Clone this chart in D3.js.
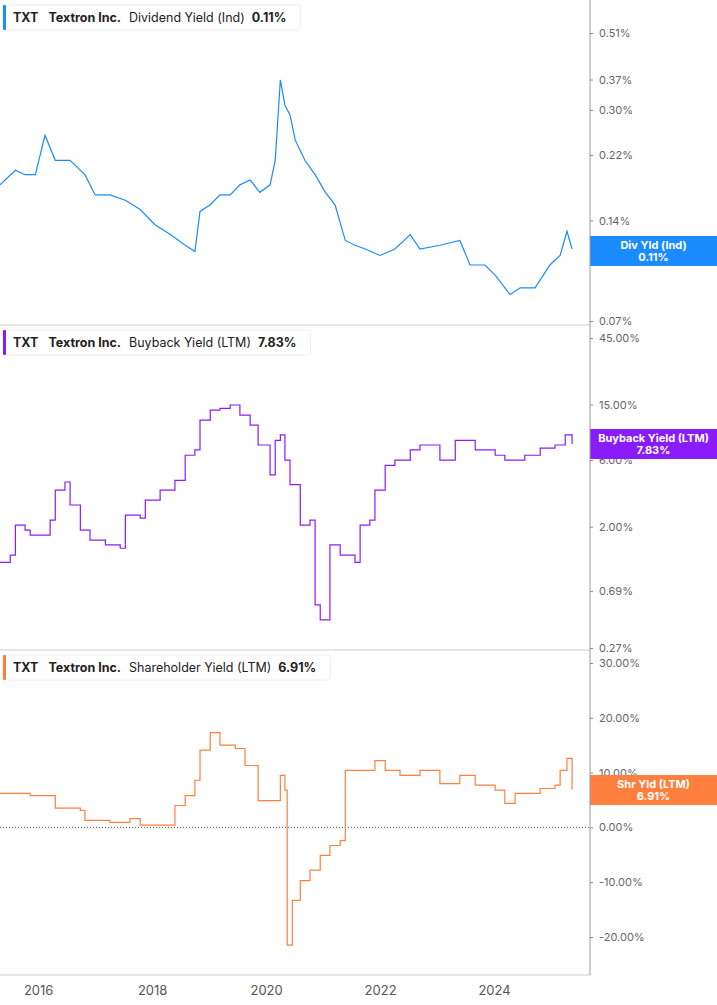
<!DOCTYPE html>
<html><head><meta charset="utf-8">
<script src="https://cdn.jsdelivr.net/npm/d3@7"></script>
<style>body{margin:0;background:#fff;font-family:Inter,"Noto Sans",sans-serif}</style>
</head><body><svg id="c" width="717" height="1005"></svg>
<script>
// data (decimal years, values in %)
const divYears = [2015.33,2015.60,2015.77,2015.95,2016.12,2016.30,2016.56,2016.82,2017.00,2017.26,2017.53,2017.79,2018.05,2018.32,2018.58,2018.75,2018.84,2019.02,2019.19,2019.37,2019.54,2019.72,2019.89,2020.07,2020.16,2020.25,2020.33,2020.42,2020.51,2020.68,2020.86,2021.04,2021.21,2021.39,2021.56,2021.74,2022.00,2022.26,2022.53,2022.70,2023.05,2023.40,2023.58,2023.84,2024.02,2024.28,2024.46,2024.72,2024.98,2025.16,2025.28,2025.37];
const divVals = [0.179,0.198,0.192,0.192,0.252,0.212,0.212,0.192,0.167,0.167,0.161,0.151,0.136,0.127,0.118,0.113,0.149,0.156,0.167,0.167,0.179,0.185,0.170,0.179,0.212,0.369,0.310,0.290,0.244,0.212,0.192,0.170,0.156,0.122,0.118,0.115,0.110,0.115,0.127,0.115,0.118,0.122,0.103,0.103,0.096,0.084,0.088,0.088,0.103,0.110,0.130,0.115];

const bbYears = [2015.33,2015.51,2015.60,2015.77,2015.86,2016.04,2016.21,2016.30,2016.47,2016.56,2016.74,2016.91,2017.18,2017.44,2017.53,2017.79,2017.88,2018.14,2018.40,2018.58,2018.75,2018.84,2019.02,2019.19,2019.37,2019.54,2019.72,2019.86,2020.07,2020.16,2020.25,2020.33,2020.42,2020.60,2020.77,2020.86,2020.95,2021.09,2021.12,2021.30,2021.56,2021.65,2021.82,2021.91,2022.09,2022.26,2022.53,2022.70,2023.05,2023.32,2023.67,2024.02,2024.19,2024.54,2024.81,2025.07,2025.25,2025.37];
const bbVals = [1.11,1.25,2.05,1.89,1.74,1.74,2.23,3.66,4.18,2.86,1.89,1.60,1.48,1.40,2.42,2.30,3.10,3.66,4.30,6.5,7.1,11.6,13.7,14.1,14.9,12.6,10.7,7.7,4.7,8.3,9.1,6.0,4.0,2.05,2.23,0.55,0.43,0.43,1.48,1.25,1.11,2.05,2.23,3.66,5.5,6.0,7.1,7.7,6.0,8.3,7.1,6.5,6.0,6.5,7.3,7.7,9.1,7.83];

const shYears = [2015.33,2015.86,2016.30,2016.74,2016.82,2017.26,2017.61,2017.79,2018.14,2018.40,2018.58,2018.75,2018.84,2019.02,2019.19,2019.46,2019.63,2019.86,2020.07,2020.25,2020.33,2020.37,2020.46,2020.60,2020.77,2020.95,2021.12,2021.30,2021.39,2021.65,2021.91,2022.09,2022.35,2022.70,2023.05,2023.40,2023.67,2024.02,2024.19,2024.37,2024.81,2025.07,2025.16,2025.28,2025.37];
const shVals = [6.2,5.8,3.5,3.1,1.3,0.9,1.6,0.4,0.4,4.0,5.8,8.6,14.1,17.3,15.0,14.4,11.3,4.9,4.9,9.5,6.8,-21.5,-13.3,-9.7,-7.8,-5.1,-3.3,-2.4,10.4,10.4,12.2,10.4,9.5,10.4,8.0,9.5,7.7,6.8,4.4,6.2,7.1,7.7,10.4,12.6,6.91];

const xTicks = [2016,2018,2020,2022,2024];

const svg = d3.select("#c");
const axisX = 590;
const x = d3.scaleLinear().domain([2015.33, 2016 + (590 - 38) / 57]).range([0, axisX]);
const fmtPct = d => d.toFixed(2) + "%";

const panels = [
  {top:0, bottom:325, years:divYears, vals:divVals, color:"#1a8cff", curve:d3.curveLinear,
   y:d3.scaleLog().domain([0.51,0.07]).range([33,321]),
   ticks:[0.51,0.37,0.30,0.22,0.14,0.11,0.07],
   name:"Dividend Yield (Ind)", last:"0.11%", tag:"Div Yld (Ind)", tagY:236},
  {top:325, bottom:650, years:bbYears, vals:bbVals, color:"#8a1cf9", curve:d3.curveStepAfter,
   y:d3.scaleLog().domain([45,0.27]).range([338,648]),
   ticks:[45,15,6,2,0.69,0.27],
   name:"Buyback Yield (LTM)", last:"7.83%", tag:"Buyback Yield (LTM)", tagY:429},
  {top:650, bottom:975, years:shYears, vals:shVals, color:"#ff7f3f", curve:d3.curveStepAfter,
   y:d3.scaleLinear().domain([30,-20]).range([663,937]),
   ticks:[30,20,10,0,-10,-20],
   name:"Shareholder Yield (LTM)", last:"6.91%", tag:"Shr Yld (LTM)", tagY:775, zero:true}
];

panels.forEach(p => {
  const g = svg.append("g");
  if (p.zero) {
    g.append("line").attr("x1",0).attr("x2",axisX).attr("y1",p.y(0)).attr("y2",p.y(0))
      .attr("stroke","#555").attr("stroke-dasharray","1,2");
  }
  const line = d3.line().curve(p.curve).x((d,i) => x(p.years[i])).y(d => p.y(d));
  g.append("path").datum(p.vals).attr("d", line).attr("fill","none")
    .attr("stroke", p.color).attr("stroke-width", 1.2);

  // right axis
  const ax = g.append("g").attr("transform",`translate(${axisX},0)`)
    .call(d3.axisRight(p.y).tickValues(p.ticks).tickSize(3).tickFormat(fmtPct));
  ax.select(".domain").remove();
  ax.selectAll("line").attr("stroke","#888");
  ax.selectAll("text").attr("x",9).attr("fill","#666").style("font-size","11px").style("font-family","Inter,sans-serif");

  g.append("line").attr("x1",0).attr("x2",axisX).attr("y1",p.bottom).attr("y2",p.bottom).attr("stroke","#ccc");

  // legend, box sized to its text
  const lg = g.append("g").attr("transform",`translate(3,${p.top + 5})`);
  const box = lg.append("rect").attr("height",25).attr("rx",3)
    .attr("fill","#fff").attr("stroke","#eee");
  lg.append("rect").attr("width",3).attr("height",25).attr("rx",1).attr("fill",p.color);
  const t = lg.append("text").attr("x",10).attr("y",17).style("font-size","12.5px").attr("fill","#222");
  t.append("tspan").attr("font-weight","bold").text("TXT");
  t.append("tspan").attr("dx",10).attr("font-weight","bold").text("Textron Inc.");
  t.append("tspan").attr("dx",8).text(p.name);
  t.append("tspan").attr("dx",7).attr("font-weight","bold").text(p.last);
  box.attr("width", t.node().getBBox().width + 24);

  // value tag
  const tg = g.append("g").attr("transform",`translate(${axisX},${p.tagY})`);
  tg.append("rect").attr("width",717-axisX).attr("height",30).attr("fill",p.color);
  tg.append("text").attr("x",(717-axisX)/2).attr("y",13).attr("text-anchor","middle")
    .attr("fill","#fff").attr("font-weight","bold").style("font-size","11px").text(p.tag);
  tg.append("text").attr("x",(717-axisX)/2).attr("y",25).attr("text-anchor","middle")
    .attr("fill","#fff").attr("font-weight","bold").style("font-size","11px").text(p.last);
});

svg.append("line").attr("x1",axisX).attr("x2",axisX).attr("y1",0).attr("y2",975).attr("stroke","#999");

const xa = svg.append("g").attr("transform","translate(0,975)")
  .call(d3.axisBottom(x).tickValues(xTicks).tickSize(0).tickPadding(11).tickFormat(d3.format("d")));
xa.select(".domain").remove();
xa.selectAll("text").attr("fill","#555").style("font-size","13px").style("font-family","Inter,sans-serif");
</script></body></html>
